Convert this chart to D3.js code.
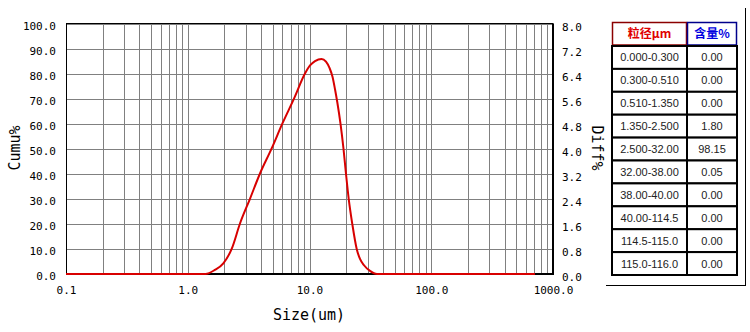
<!DOCTYPE html>
<html>
<head>
<meta charset="utf-8">
<script src="https://cdn.jsdelivr.net/npm/d3@7"></script>
<style>
  body { margin: 0; background: #fff; }
  svg { display: block; }
</style>
</head>
<body>
<script>
// particle size (um) and differential %
var sizes = [0.1, 1.40, 1.67, 1.96, 2.30, 2.69, 3.25, 3.92, 4.89, 5.98, 7.46, 9.18, 10.1, 11.1, 12.55,
             13.66, 14.60, 15.45, 16.20, 16.89, 17.97, 19.02, 19.94, 20.99, 22.46, 24.42, 25.99, 28.03, 31.40, 35.84, 711];
var diff = [0, 0, 0.13, 0.34, 0.81, 1.62, 2.41, 3.21, 4.01, 4.80, 5.60, 6.40, 6.66, 6.80, 6.87,
            6.78, 6.58, 6.30, 5.90, 5.50, 4.80, 4.00, 3.20, 2.40, 1.60, 0.80, 0.48, 0.28, 0.10, 0, 0];

var sizeTicks = [0.1, 1, 10, 100, 1000];
var sizeTickLabels = ["0.1", "1.0", "10.0", "100.0", "1000.0"];
var cumuTicks = [0, 10, 20, 30, 40, 50, 60, 70, 80, 90, 100];
var diffTicks = [0, 0.8, 1.6, 2.4, 3.2, 4.0, 4.8, 5.6, 6.4, 7.2, 8.0];

var tableHeader = ["粒径µm", "含量%"];
var ranges = ["0.000-0.300", "0.300-0.510", "0.510-1.350", "1.350-2.500", "2.500-32.00",
              "32.00-38.00", "38.00-40.00", "40.00-114.5", "114.5-115.0", "115.0-116.0"];
var contents = ["0.00", "0.00", "0.00", "1.80", "98.15", "0.05", "0.00", "0.00", "0.00", "0.00"];

var w = 750, h = 332;
var pLeft = 66, pRight = 553, pTop = 23.5, pBottom = 274;
var mono = "'DejaVu Sans Mono', monospace";

var svg = d3.select("body").append("svg")
    .attr("width", w)
    .attr("height", h);

var x = d3.scaleLog().domain([0.1, 1000]).range([pLeft, pRight]);
var yL = d3.scaleLinear().domain([0, 100]).range([pBottom, pTop]);
var yR = d3.scaleLinear().domain([0, 8]).range([pBottom, pTop]);

// grid
var grid = svg.append("g").attr("stroke", "#808080").attr("stroke-width", 1);
grid.selectAll("line.v")
    .data(x.ticks())
    .enter().append("line")
    .attr("class", "v")
    .attr("x1", function(d) { return Math.round(x(d)) + 0.5; })
    .attr("x2", function(d) { return Math.round(x(d)) + 0.5; })
    .attr("y1", pTop)
    .attr("y2", pBottom);
grid.selectAll("line.h")
    .data(cumuTicks)
    .enter().append("line")
    .attr("class", "h")
    .attr("x1", pLeft)
    .attr("x2", pRight)
    .attr("y1", function(d) { return Math.round(yL(d)) + 0.5; })
    .attr("y2", function(d) { return Math.round(yL(d)) + 0.5; });

// frame
svg.append("line").attr("x1", pLeft + 0.5).attr("x2", pLeft + 0.5).attr("y1", pTop).attr("y2", pBottom)
    .attr("stroke", "#000");
svg.append("line").attr("x1", pLeft).attr("x2", pRight).attr("y1", pTop).attr("y2", pTop)
    .attr("stroke", "#000");
svg.append("line").attr("x1", pLeft).attr("x2", pRight + 1).attr("y1", pBottom).attr("y2", pBottom)
    .attr("stroke", "#000").attr("stroke-width", 2);
svg.append("line").attr("x1", pRight).attr("x2", pRight).attr("y1", pTop).attr("y2", pBottom + 1)
    .attr("stroke", "#000").attr("stroke-width", 2);

// axes (labels only)
var axL = svg.append("g")
    .attr("transform", "translate(" + pLeft + ",0)")
    .call(d3.axisLeft(yL).tickValues(cumuTicks).tickSize(0).tickPadding(10).tickFormat(d3.format(".1f")));
var axR = svg.append("g")
    .attr("transform", "translate(" + pRight + ",0)")
    .call(d3.axisRight(yR).tickValues(diffTicks).tickSize(0).tickPadding(9).tickFormat(d3.format(".1f")));
var axB = svg.append("g")
    .attr("transform", "translate(0," + pBottom + ")")
    .call(d3.axisBottom(x).tickValues(sizeTicks).tickSize(0).tickPadding(12)
        .tickFormat(function(d, i) { return sizeTickLabels[i]; }));

[axL, axR, axB].forEach(function(a) {
    a.select(".domain").remove();
    a.selectAll("text").attr("font-family", mono).attr("font-size", 11).attr("fill", "#000");
});
axL.selectAll("text").attr("dy", "0.52em");
axR.selectAll("text").attr("dy", "0.6em");

// curve
var line = d3.line()
    .x(function(d, i) { return x(sizes[i]); })
    .y(function(d) { return yR(d); })
    .curve(d3.curveMonotoneX);

svg.append("path")
    .datum(diff)
    .attr("d", line)
    .attr("fill", "none")
    .attr("stroke", "#d80000")
    .attr("stroke-width", 2);

// axis titles
svg.append("text")
    .attr("transform", "translate(20,148) rotate(-90)")
    .attr("text-anchor", "middle")
    .attr("font-family", mono).attr("font-size", 15)
    .text("Cumu%");
svg.append("text")
    .attr("transform", "translate(592,148) rotate(90)")
    .attr("text-anchor", "middle")
    .attr("font-family", mono).attr("font-size", 15)
    .text("Diff%");
svg.append("text")
    .attr("x", 309).attr("y", 320)
    .attr("text-anchor", "middle")
    .attr("font-family", mono).attr("font-size", 15)
    .text("Size(um)");

// table
var tx0 = 612, tx1 = 687, tx2 = 737;
var headTop = 22, headBot = 44.5;
var rowTop = 46, rowH = 22.9;
var tbl = svg.append("g");

tbl.append("rect").attr("x", tx0 + 0.5).attr("y", headTop + 0.5)
    .attr("width", tx1 - tx0 - 1).attr("height", headBot - headTop)
    .attr("fill", "#fff").attr("stroke", "#8b0000").attr("stroke-width", 1.5);
tbl.append("rect").attr("x", tx1 + 0.5).attr("y", headTop + 0.5)
    .attr("width", tx2 - tx1 - 1).attr("height", headBot - headTop)
    .attr("fill", "#fff").attr("stroke", "#00008b").attr("stroke-width", 1.5);
tbl.append("text").attr("x", (tx0 + tx1) / 2).attr("y", (headTop + headBot) / 2 + 4.5)
    .attr("text-anchor", "middle").attr("font-family", "'Noto Sans CJK SC', sans-serif")
    .attr("font-size", 12).attr("font-weight", "bold").attr("fill", "#e00000")
    .text(tableHeader[0]);
tbl.append("text").attr("x", (tx1 + tx2) / 2).attr("y", (headTop + headBot) / 2 + 4.5)
    .attr("text-anchor", "middle").attr("font-family", "'Noto Sans CJK SC', sans-serif")
    .attr("font-size", 12).attr("font-weight", "bold").attr("fill", "#0000e0")
    .text(tableHeader[1]);

var rows = tbl.selectAll("g.row")
    .data(ranges)
    .enter().append("g")
    .attr("class", "row")
    .attr("transform", function(d, i) { return "translate(0," + (rowTop + i * rowH) + ")"; });

rows.append("rect").attr("x", tx0).attr("y", 0)
    .attr("width", tx1 - tx0).attr("height", rowH)
    .attr("fill", "#fff").attr("stroke", "#000").attr("stroke-width", 2);
rows.append("rect").attr("x", tx1).attr("y", 0)
    .attr("width", tx2 - tx1).attr("height", rowH)
    .attr("fill", "#fff").attr("stroke", "#000").attr("stroke-width", 2);
rows.append("text").attr("x", (tx0 + tx1) / 2).attr("y", rowH / 2 + 4)
    .attr("text-anchor", "middle").attr("font-family", "'Liberation Sans', sans-serif")
    .attr("font-size", 11).attr("fill", "#222")
    .text(function(d) { return d; });
rows.append("text").attr("x", (tx1 + tx2) / 2).attr("y", rowH / 2 + 4)
    .attr("text-anchor", "middle").attr("font-family", "'Liberation Sans', sans-serif")
    .attr("font-size", 11).attr("fill", "#222")
    .text(function(d, i) { return contents[i]; });

// outer panel edges
svg.append("line").attr("x1", 745.5).attr("x2", 745.5).attr("y1", 8).attr("y2", 285)
    .attr("stroke", "#000");
svg.append("line").attr("x1", 606).attr("x2", 746).attr("y1", 285.5).attr("y2", 285.5)
    .attr("stroke", "#000");
</script>
</body>
</html>
